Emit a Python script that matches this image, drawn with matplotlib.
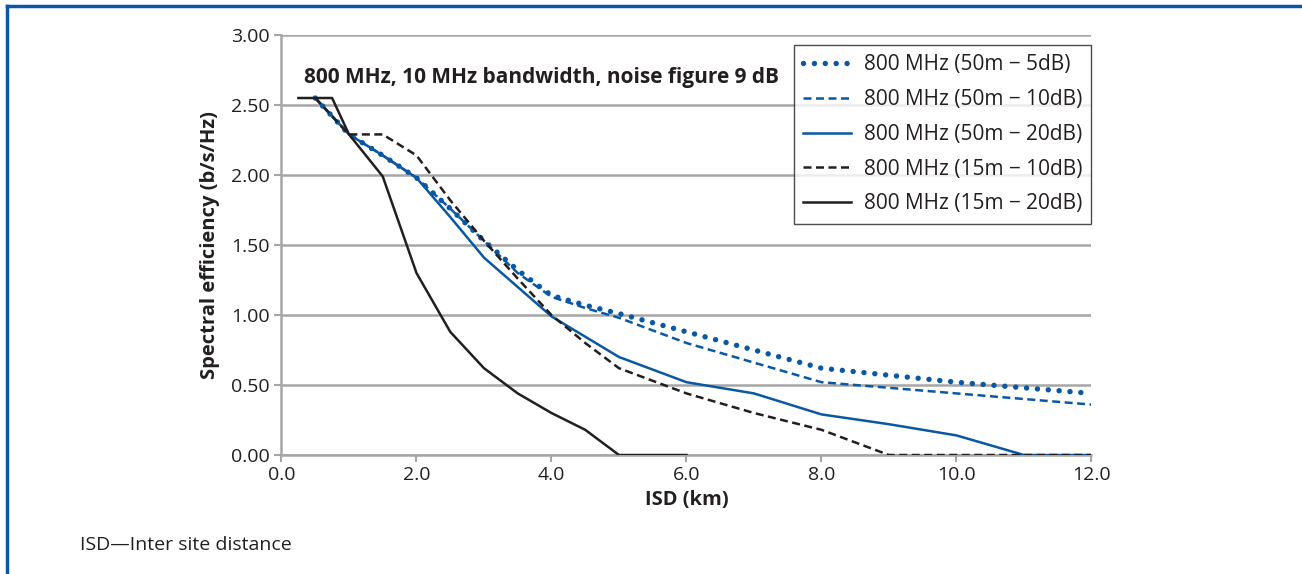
import matplotlib.pyplot as plt
from matplotlib.lines import Line2D

plt.rcParams['font.family'] = ['Open Sans', 'DejaVu Sans']

# --- data (ISD in km, spectral efficiency in b/s/Hz) ---
x_50m_5db = [0.5, 1.0, 1.5, 2.0, 2.5, 3.0, 3.5, 4.0, 4.5, 5.0, 6.0, 7.0, 8.0, 9.0, 10.0, 11.0, 12.0]
y_50m_5db = [2.55, 2.29, 2.14, 1.98, 1.76, 1.53, 1.32, 1.14, 1.07, 1.01, 0.88, 0.75, 0.62, 0.57, 0.52, 0.48, 0.44]

x_50m_10db = [0.5, 1.0, 1.5, 2.0, 2.5, 3.0, 3.5, 4.0, 4.5, 5.0, 6.0, 7.0, 8.0, 9.0, 10.0, 11.0, 12.0]
y_50m_10db = [2.55, 2.29, 2.14, 1.98, 1.76, 1.53, 1.30, 1.13, 1.05, 0.98, 0.80, 0.66, 0.52, 0.48, 0.44, 0.40, 0.36]

x_50m_20db = [0.5, 1.0, 1.5, 2.0, 2.5, 3.0, 3.5, 4.0, 5.0, 6.0, 7.0, 8.0, 9.0, 10.0, 11.0, 12.0]
y_50m_20db = [2.55, 2.29, 2.14, 1.98, 1.70, 1.41, 1.20, 0.99, 0.70, 0.52, 0.44, 0.29, 0.22, 0.14, 0.0, 0.0]

x_15m_10db = [0.5, 1.0, 1.5, 2.0, 2.5, 3.0, 3.5, 4.0, 4.5, 5.0, 6.0, 7.0, 8.0, 9.0, 10.0, 11.0, 12.0]
y_15m_10db = [2.55, 2.29, 2.29, 2.14, 1.82, 1.53, 1.26, 1.0, 0.80, 0.62, 0.44, 0.30, 0.18, 0.0, 0.0, 0.0, 0.0]

x_15m_20db = [0.25, 0.75, 1.0, 1.5, 2.0, 2.5, 3.0, 3.5, 4.0, 4.5, 5.0, 6.0]
y_15m_20db = [2.55, 2.55, 2.29, 1.99, 1.30, 0.88, 0.62, 0.44, 0.30, 0.18, 0.0, 0.0]

labels = ['800 MHz (50m \u2212 5dB)', '800 MHz (50m \u2212 10dB)', '800 MHz (50m \u2212 20dB)',
          '800 MHz (15m \u2212 10dB)', '800 MHz (15m \u2212 20dB)']

blue = '#0a58a4'
black = '#231f20'
grid = '#a6a6a6'

fig = plt.figure(figsize=(13.02, 5.74), dpi=100)
ax = fig.add_axes([0.2162, 0.2073, 0.6221, 0.7317])

ax.plot(x_50m_5db, y_50m_5db, color=blue, lw=3.9, linestyle=(0, (0.01, 2.0)),
        dash_capstyle='round', solid_capstyle='round', label=labels[0], zorder=3)
ax.plot(x_50m_10db, y_50m_10db, color=blue, lw=1.8, linestyle=(0, (3.2, 1.8)), label=labels[1], zorder=3)
ax.plot(x_50m_20db, y_50m_20db, color=blue, lw=1.8, label=labels[2], zorder=3)
ax.plot(x_15m_10db, y_15m_10db, color=black, lw=1.8, linestyle=(0, (3.2, 1.8)), label=labels[3], zorder=3)
ax.plot(x_15m_20db, y_15m_20db, color=black, lw=1.8, label=labels[4], zorder=3)

ax.set_xlim(0, 12)
ax.set_ylim(0, 3)
ax.set_xticks([0, 2, 4, 6, 8, 10, 12])
ax.set_xticklabels([f'{v:.1f}' for v in [0, 2, 4, 6, 8, 10, 12]])
ax.set_yticks([0, 0.5, 1.0, 1.5, 2.0, 2.5, 3.0])
ax.set_yticklabels([f'{v:.2f}' for v in [0, 0.5, 1.0, 1.5, 2.0, 2.5, 3.0]])

ax.grid(axis='y', color=grid, lw=1.8)
ax.set_axisbelow(True)
for s in ['top', 'right']:
    ax.spines[s].set_visible(False)
for s in ['left', 'bottom']:
    ax.spines[s].set_color(grid)
    ax.spines[s].set_linewidth(1.8)
ax.tick_params(axis='both', colors=grid, length=5, width=1.5, labelcolor=black, labelsize=14)
ax.tick_params(axis='x', pad=3)

ax.set_xlabel('ISD (km)', fontsize=14.5, fontweight='bold', color=black, labelpad=4)
ax.set_ylabel('Spectral efficiency (b/s/Hz)', fontsize=14.5, fontweight='bold', color=black, labelpad=8)

ax.text(0.028, 0.9, '800 MHz, 10 MHz bandwidth, noise figure 9 dB', transform=ax.transAxes,
        fontsize=15, fontweight='bold', color=black, va='center', ha='left')

leg = ax.legend(loc='upper right', bbox_to_anchor=(1.0, 0.976), fontsize=15, frameon=True,
                fancybox=False, edgecolor=black, handlelength=2.3, borderpad=0.45,
                labelspacing=0.66, handletextpad=0.6, borderaxespad=0.0)
leg.get_frame().set_linewidth(1.0)
for t in leg.get_texts():
    t.set_color(black)

fig.text(0.0615, 0.05, 'ISD\u2014Inter site distance', fontsize=14, color=black, va='center')

# blue frame on top and left
fig.add_artist(Line2D([0.005, 1.0], [0.989, 0.989], color=blue, lw=2.5, transform=fig.transFigure))
fig.add_artist(Line2D([0.005, 0.005], [0.0, 0.989], color=blue, lw=2.5, transform=fig.transFigure))

fig.savefig('out.png', dpi=100)
